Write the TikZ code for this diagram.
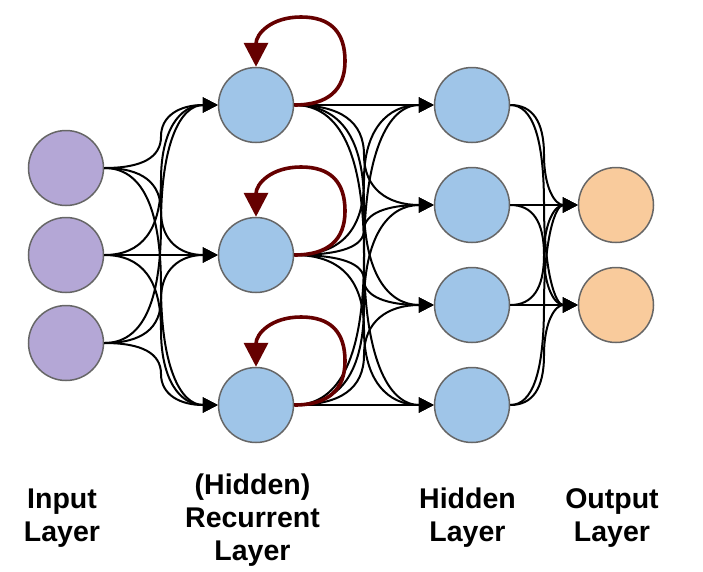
\documentclass[tikz,border=0pt]{standalone}
\usepackage{fontspec}
\setmainfont{Liberation Sans}
\usetikzlibrary{arrows.meta,calc}
\definecolor{inpurple}{HTML}{B4A7D6}
\definecolor{hidblue}{HTML}{9FC5E8}
\definecolor{outorange}{HTML}{F9CB9C}
\definecolor{loopred}{HTML}{660000}
\definecolor{rimgray}{HTML}{666666}
\tikzset{
  neuron/.style={circle,draw=rimgray,line width=1.5pt,minimum size=75pt,inner sep=0pt},
  inneuron/.style={neuron,fill=inpurple},
  hidneuron/.style={neuron,fill=hidblue},
  outneuron/.style={neuron,fill=outorange},
  conn/.style={draw=black,line width=2pt,-{Triangle[length=15pt,width=15pt]}},
  selfloop/.style={draw=loopred,line width=3.6pt,-{Triangle[length=24pt,width=24pt]}},
  lbl/.style={font=\bfseries\fontsize{28.5pt}{33pt}\selectfont,align=center,inner sep=0pt}
}
\newcommand\dioedge[2]{%
  \draw[conn] let \p1=(#1.east), \p2=(#2.west),
    \n1={(\x1+\x2)/2}, \n2={(\y1+\y2)/2} in
    (\p1) .. controls ({\x1+2/3*(\n1-\x1)},\y1) and ({\n1*1pt},{(\n2+2/3*(\y1-\n2))*1pt})
    .. ({\n1*1pt},{\n2*1pt})
    .. controls ({\n1*1pt},{(\n2+2/3*(\y2-\n2))*1pt}) and ({\x2+2/3*(\n1-\x2)},\y2) .. (\p2);}
\newcommand\dioloop[1]{%
  \draw[selfloop] (#1.east)
    .. controls ([shift={(71.7,0)}]#1.center) and ([shift={(89,-14.7)}]#1.center)
    .. ([shift={(89,-44)}]#1.center)
    .. controls ([shift={(89,-73.3)}]#1.center) and ([shift={(74.3,-88)}]#1.center)
    .. ([shift={(45,-88)}]#1.center)
    .. controls ([shift={(15.3,-88)}]#1.center) and ([shift={(0,-71.3)}]#1.center)
    .. (#1.north);}
\begin{document}
\begin{tikzpicture}[x=1pt,y=-1pt]
\useasboundingbox (0,0) rectangle (703,571);
% nodes
\node[inneuron] (i1) at (66,168) {};
\node[inneuron] (i2) at (66,255) {};
\node[inneuron] (i3) at (66,343) {};
\node[hidneuron] (r1) at (256,105) {};
\node[hidneuron] (r2) at (256,255) {};
\node[hidneuron] (r3) at (256,405) {};
\node[hidneuron] (h1) at (472,105) {};
\node[hidneuron] (h2) at (472,205) {};
\node[hidneuron] (h3) at (472,305) {};
\node[hidneuron] (h4) at (472,405) {};
\node[outneuron] (o1) at (616,205) {};
\node[outneuron] (o2) at (616,305) {};
% connectors
\foreach \s in {i1,i2,i3}{\foreach \t in {r1,r2,r3}{\dioedge{\s}{\t}}}
\foreach \s in {r1,r2,r3}{\foreach \t in {h1,h2,h3,h4}{\dioedge{\s}{\t}}}
\foreach \s in {h1,h2,h3,h4}{\foreach \t in {o1,o2}{\dioedge{\s}{\t}}}
\foreach \s in {r1,r2,r3}{\dioloop{\s}}
% labels
\node[lbl] (linput) at (62,518) {Input\\Layer};
\node[lbl] (lrec) at (252.5,520) {(Hidden)\\Recurrent\\Layer};
\node[lbl] (lhid) at (467.5,518) {Hidden\\Layer};
\node[lbl] (lout) at (612,518) {Output\\Layer};
\end{tikzpicture}
\end{document}
